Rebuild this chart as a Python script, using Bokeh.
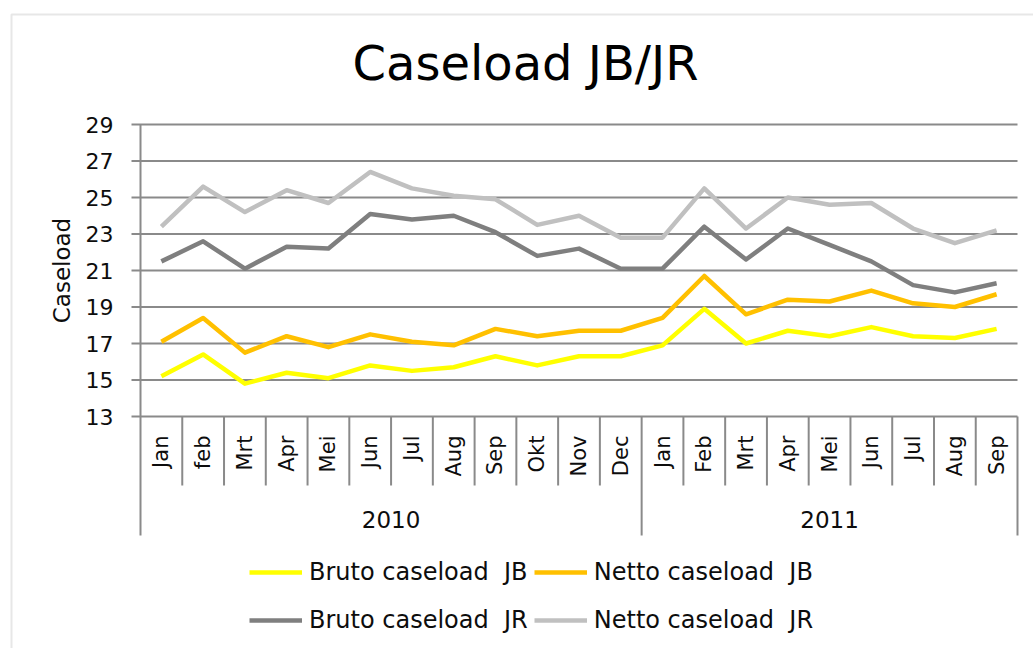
import numpy as np
from bokeh.plotting import figure
from bokeh.models import (Range1d, Legend, LegendItem, LabelSet, Label,
                          ColumnDataSource, BoxAnnotation)
from bokeh.core.properties import value
from bokeh.embed import file_html
from bokeh.resources import INLINE

# ---------------- data ----------------
months = ["Jan", "feb", "Mrt", "Apr", "Mei", "Jun", "Jul", "Aug", "Sep", "Okt", "Nov", "Dec",
          "Jan", "Feb", "Mrt", "Apr", "Mei", "Jun", "Jul", "Aug", "Sep"]
years = ["2010"] * 12 + ["2011"] * 9
y_ticks = [13, 15, 17, 19, 21, 23, 25, 27, 29]

bruto_jb = [15.2, 16.4, 14.8, 15.4, 15.1, 15.8, 15.5, 15.7, 16.3, 15.8, 16.3, 16.3,
            16.9, 18.9, 17.0, 17.7, 17.4, 17.9, 17.4, 17.3, 17.8]
netto_jb = [17.1, 18.4, 16.5, 17.4, 16.8, 17.5, 17.1, 16.9, 17.8, 17.4, 17.7, 17.7,
            18.4, 20.7, 18.6, 19.4, 19.3, 19.9, 19.2, 19.0, 19.7]
bruto_jr = [21.5, 22.6, 21.1, 22.3, 22.2, 24.1, 23.8, 24.0, 23.1, 21.8, 22.2, 21.1,
            21.1, 23.4, 21.6, 23.3, 22.4, 21.5, 20.2, 19.8, 20.3]
netto_jr = [23.4, 25.6, 24.2, 25.4, 24.7, 26.4, 25.5, 25.1, 24.9, 23.5, 24.0, 22.8,
            22.8, 25.5, 23.3, 25.0, 24.6, 24.7, 23.3, 22.5, 23.2]

series_names = ["Bruto caseload  JB", "Netto caseload  JB", "Bruto caseload  JR", "Netto caseload  JR"]
series_colors = ["#FFFF00", "#FFC000", "#7F7F7F", "#C0C0C0"]
series_values = [bruto_jb, netto_jb, bruto_jr, netto_jr]
title_text = "Caseload JB/JR"
y_title = "Caseload"

# ---------------- layout helpers (page pixels -> data units) ----------------
W, H = 1033, 648
n = len(months)
FRAME_L_PAGE, FRAME_R_PAGE = 140, 1017
PX_X = (FRAME_R_PAGE - FRAME_L_PAGE) / n      # px per category
PX_Y = 18.25                                  # px per y unit
Y29_PAGE = 124
YMIN, YMAX = y_ticks[0], y_ticks[-1]

def xd(px):
    return (px - FRAME_L_PAGE) / PX_X

def yd(py):
    return YMAX - (py - Y29_PAGE) / PX_Y

FONT = "DejaVu Sans"
GRID = "#8a8a8a"
TXT = "#0d0d0d"

p = figure(width=W, height=H,
           x_range=Range1d(xd(0), xd(W)), y_range=Range1d(yd(H), yd(0)),
           x_axis_location=None, y_axis_location=None, toolbar_location=None,
           output_backend="svg", min_border=0)
p.outline_line_color = None
p.background_fill_color = "white"
p.border_fill_color = "white"
p.grid.visible = False

# ---------------- chart border ----------------
p.add_layout(BoxAnnotation(left=xd(11), top=yd(14), right=xd(3000), bottom=yd(3000),
                           fill_alpha=0, line_color="#b0b0b0", line_width=2))

# ---------------- gridlines + y axis ticks ----------------
p.segment(x0=[xd(131)] * len(y_ticks), y0=y_ticks, x1=[n] * len(y_ticks), y1=y_ticks,
          line_color=GRID, line_width=2)

# category separators (also y axis line)
uniq_years = []
for yv in years:
    if yv not in uniq_years:
        uniq_years.append(yv)
year_centers, group_bounds = [], [0]
for yv in uniq_years:
    idx = [i for i, v in enumerate(years) if v == yv]
    year_centers.append((idx[0] + idx[-1] + 1) / 2)
    group_bounds.append(idx[-1] + 1)
bounds = list(range(n + 1))
lowers = [yd(535) if b in group_bounds else yd(485) for b in bounds]
uppers = [YMAX if b == 0 else YMIN for b in bounds]
p.segment(x0=bounds, y0=uppers, x1=bounds, y1=lowers, line_color=GRID, line_width=2)

# ---------------- series ----------------
xs = [i + 0.5 for i in range(n)]
items = []
for name, col, vals in zip(series_names, series_colors, series_values):
    r = p.line(xs, vals, line_color=col, line_width=4.5, line_join="round")
    items.append(LegendItem(label=name, renderers=[r]))

legend = Legend(items=items, location=(249, H - 641), orientation="horizontal", ncols=2,
                border_line_color=None, background_fill_alpha=0, padding=0, margin=0,
                spacing=6, label_standoff=7, glyph_width=53, glyph_height=42, label_height=42,
                label_text_font=FONT, label_text_font_size="24px", label_text_color=TXT)
p.add_layout(legend)

# ---------------- texts ----------------
tick_src = ColumnDataSource(dict(x=[xd(113)] * len(y_ticks), y=y_ticks, text=[str(t) for t in y_ticks]))
p.add_layout(LabelSet(x="x", y="y", text="text", source=tick_src,
                      text_align="right", text_baseline="middle",
                      text_font=value(FONT), text_font_size="22px", text_color=TXT))

p.add_layout(Label(x=xd(61), y=yd(270), text=y_title, angle=np.pi / 2,
                   text_align="center", text_baseline="middle",
                   text_font=FONT, text_font_size="23px", text_color=TXT))

month_src = ColumnDataSource(dict(x=xs, y=[yd(435)] * n, text=months))
p.add_layout(LabelSet(x="x", y="y", text="text", source=month_src, angle=np.pi / 2,
                      text_align="right", text_baseline="middle",
                      text_font=value(FONT), text_font_size="21px", text_color=TXT))

year_src = ColumnDataSource(dict(x=year_centers, y=[yd(519)] * len(uniq_years), text=uniq_years))
p.add_layout(LabelSet(x="x", y="y", text="text", source=year_src,
                      text_align="center", text_baseline="middle",
                      text_font=value(FONT), text_font_size="23px", text_color=TXT))

p.add_layout(Label(x=xd(525), y=yd(62), text=title_text, text_align="center",
                   text_baseline="middle", text_font=FONT, text_font_size="48px",
                   text_color="#000000"))

open("out.html", "w").write(file_html(p, INLINE))
